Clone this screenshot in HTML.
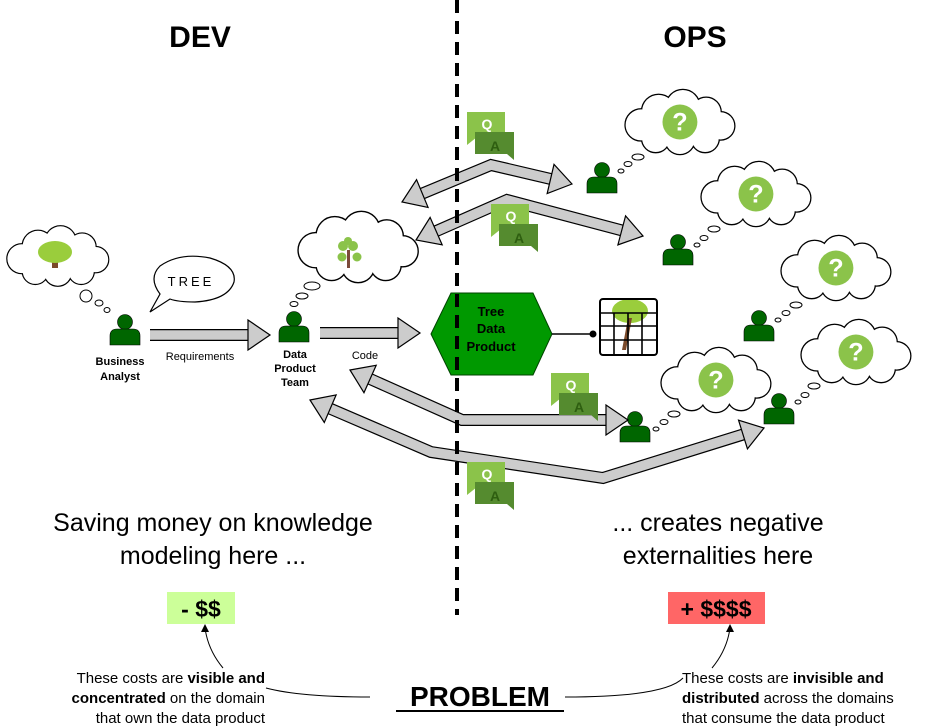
<!DOCTYPE html>
<html><head><meta charset="utf-8"><style>
html,body{margin:0;padding:0;background:#fff;}
svg{display:block;font-family:"Liberation Sans",sans-serif;}
</style></head><body>
<svg id="s" width="930" height="728" viewBox="0 0 930 728" xmlns="http://www.w3.org/2000/svg">
<defs>
<symbol id="cloud" viewBox="0 0 120 66" overflow="visible">
<g fill="#000" stroke="#000" stroke-width="2.6">
<circle cx="22" cy="36" r="16"/><circle cx="40" cy="22" r="17"/><circle cx="65" cy="17" r="17"/><circle cx="89" cy="23" r="15"/><circle cx="104" cy="37" r="14"/><circle cx="88" cy="50" r="14"/><circle cx="62" cy="51" r="15"/><circle cx="37" cy="50" r="14"/><ellipse cx="62" cy="35" rx="40" ry="20"/>
</g>
<g fill="#fff">
<circle cx="22" cy="36" r="16"/><circle cx="40" cy="22" r="17"/><circle cx="65" cy="17" r="17"/><circle cx="89" cy="23" r="15"/><circle cx="104" cy="37" r="14"/><circle cx="88" cy="50" r="14"/><circle cx="62" cy="51" r="15"/><circle cx="37" cy="50" r="14"/><ellipse cx="62" cy="35" rx="40" ry="20"/>
</g>
</symbol>
<symbol id="person" viewBox="0 0 32 32" overflow="visible">
<circle cx="16" cy="8" r="7.5" fill="#006600" stroke="#000" stroke-width="0.6"/>
<path d="M1,31 L1,22 Q1,15 8,15 L24,15 Q31,15 31,22 L31,31 Z" fill="#006600" stroke="#000" stroke-width="0.6"/>
</symbol>
<symbol id="qa" viewBox="0 0 48 50" overflow="visible">
<path d="M0,0 H38 V25 H10 L0,33 Z" fill="#8bc34a"/>
<path d="M8,20 H47 V48 L40,42 H8 Z" fill="#558b2f"/>
<text x="20" y="17" font-size="14" font-weight="bold" fill="#fff" text-anchor="middle">Q</text>
<text x="28" y="39" font-size="14" font-weight="bold" fill="#2e5e10" text-anchor="middle">A</text>
</symbol>
<symbol id="qcloud" viewBox="0 0 120 66" overflow="visible">
<use href="#cloud" x="0" y="0" width="120" height="66"/>
<circle cx="62" cy="33" r="18" fill="#8bc34a"/>
<text x="62" y="42" font-size="26" font-weight="bold" fill="#fff" text-anchor="middle">?</text>
</symbol>
</defs>

<text x="200" y="47" font-size="30" font-weight="bold" text-anchor="middle">DEV</text>
<text x="695" y="47" font-size="30" font-weight="bold" text-anchor="middle">OPS</text>

<use href="#cloud" x="2" y="222" width="108" height="68"/>
<circle cx="86" cy="296" r="6" fill="#fff" stroke="#000" stroke-width="1"/>
<ellipse cx="99" cy="303" rx="4" ry="3" fill="#fff" stroke="#000" stroke-width="1"/>
<ellipse cx="107" cy="310" rx="3" ry="2.5" fill="#fff" stroke="#000" stroke-width="1"/>
<rect x="52" y="252" width="6" height="16" fill="#7b4a2a"/>
<ellipse cx="55" cy="252" rx="17" ry="11" fill="#9acd3c"/>

<use href="#cloud" x="291" y="212" width="130" height="70"/>
<ellipse cx="312" cy="286" rx="8" ry="4" fill="#fff" stroke="#000" stroke-width="1"/>
<ellipse cx="302" cy="296" rx="6" ry="3" fill="#fff" stroke="#000" stroke-width="1"/>
<ellipse cx="294" cy="304" rx="4" ry="2.5" fill="#fff" stroke="#000" stroke-width="1"/>
<rect x="347" y="250" width="3" height="18" fill="#7b4a3a"/>
<g fill="#8bc34a"><circle cx="343" cy="246" r="5"/><circle cx="353" cy="246" r="5"/><circle cx="342" cy="257" r="4.5"/><circle cx="357" cy="257" r="4.5"/><circle cx="348" cy="241" r="4"/></g>

<path d="M160,294 Q148,278 160,266 Q180,252 210,258 Q237,266 234,282 Q228,300 195,302 Q178,302 170,299 L150,312 Z" fill="#fff" stroke="#000" stroke-width="1.2"/>
<text x="191" y="286" font-size="13" letter-spacing="3" text-anchor="middle">TREE</text>

<use href="#qcloud" x="616" y="90" width="124" height="64"/>
<use href="#qcloud" x="692" y="162" width="124" height="64"/>
<use href="#qcloud" x="772" y="236" width="124" height="64"/>
<use href="#qcloud" x="652" y="348" width="124" height="64"/>
<use href="#qcloud" x="792" y="320" width="124" height="64"/>
<g fill="#fff" stroke="#000" stroke-width="1">
<ellipse cx="638" cy="157" rx="6" ry="3"/><ellipse cx="628" cy="164" rx="4" ry="2.5"/><ellipse cx="621" cy="171" rx="3" ry="2"/>
<ellipse cx="714" cy="229" rx="6" ry="3"/><ellipse cx="704" cy="238" rx="4" ry="2.5"/><ellipse cx="697" cy="245" rx="3" ry="2"/>
<ellipse cx="796" cy="305" rx="6" ry="3"/><ellipse cx="786" cy="313" rx="4" ry="2.5"/><ellipse cx="778" cy="320" rx="3" ry="2"/>
<ellipse cx="674" cy="414" rx="6" ry="3"/><ellipse cx="664" cy="422" rx="4" ry="2.5"/><ellipse cx="656" cy="429" rx="3" ry="2"/>
<ellipse cx="814" cy="386" rx="6" ry="3"/><ellipse cx="805" cy="395" rx="4" ry="2.5"/><ellipse cx="798" cy="402" rx="3" ry="2"/>
</g>

<use href="#person" x="109" y="314" width="32" height="32"/>
<use href="#person" x="278" y="311" width="32" height="32"/>
<use href="#person" x="586" y="162" width="32" height="32"/>
<use href="#person" x="662" y="234" width="32" height="32"/>
<use href="#person" x="743" y="310" width="32" height="32"/>
<use href="#person" x="619" y="411" width="32" height="32"/>
<use href="#person" x="763" y="393" width="32" height="32"/>

<text font-size="11" font-weight="bold" text-anchor="middle"><tspan x="120" y="365">Business</tspan><tspan x="120" y="380">Analyst</tspan></text>
<text x="200" y="360" font-size="11" text-anchor="middle">Requirements</text>
<text font-size="11" font-weight="bold" text-anchor="middle"><tspan x="295" y="358">Data</tspan><tspan x="295" y="372">Product</tspan><tspan x="295" y="386">Team</tspan></text>
<text x="365" y="359" font-size="11" text-anchor="middle">Code</text>

<g id="arrows"></g>

<polygon points="431,334 451,293 533,293 552,334 533,375 451,375" fill="#009900" stroke="#004400" stroke-width="1"/>
<text font-size="13" font-weight="bold" text-anchor="middle"><tspan x="491" y="316">Tree</tspan><tspan x="491" y="333">Data</tspan><tspan x="491" y="351">Product</tspan></text>
<line x1="552" y1="334" x2="593" y2="334" stroke="#000" stroke-width="1.5"/>
<circle cx="593" cy="334" r="3.5" fill="#000"/>
<ellipse cx="630" cy="311" rx="18" ry="12" fill="#9acd3c"/>
<path d="M628,318 L632,318 L626,350 L622,350 Z" fill="#7b4a2a"/>
<rect x="600" y="299" width="57" height="56" rx="3" fill="none" stroke="#000" stroke-width="2"/>
<g stroke="#000" stroke-width="1.6">
<line x1="600" y1="313" x2="657" y2="313"/><line x1="600" y1="326" x2="657" y2="326"/><line x1="600" y1="340" x2="657" y2="340"/>
<line x1="614" y1="313" x2="614" y2="355"/><line x1="628" y1="313" x2="628" y2="355"/><line x1="642" y1="313" x2="642" y2="355"/>
</g>

<line x1="457" y1="0" x2="457" y2="615" stroke="#000" stroke-width="4" stroke-dasharray="13,8"/>

<use href="#qa" x="467" y="112" width="48" height="50"/>
<use href="#qa" x="491" y="204" width="48" height="50"/>
<use href="#qa" x="551" y="373" width="48" height="50"/>
<use href="#qa" x="467" y="462" width="48" height="50"/>

<text font-size="25" text-anchor="middle"><tspan x="213" y="531">Saving money on knowledge</tspan><tspan x="213" y="564">modeling here ...</tspan></text>
<text font-size="25" text-anchor="middle"><tspan x="718" y="531">... creates negative</tspan><tspan x="718" y="564">externalities here</tspan></text>
<rect x="167" y="592" width="68" height="32" fill="#ccff99"/>
<text x="201" y="617" font-size="23" font-weight="bold" text-anchor="middle">- $$</text>
<rect x="668" y="592" width="97" height="32" fill="#ff6666"/>
<text x="716" y="617" font-size="23" font-weight="bold" text-anchor="middle">+ $$$$</text>

<text font-size="15" text-anchor="end"><tspan x="265" y="683">These costs are <tspan font-weight="bold">visible and</tspan></tspan><tspan x="265" y="703"><tspan font-weight="bold">concentrated</tspan> on the domain</tspan><tspan x="265" y="723">that own the data product</tspan></text>
<text font-size="15"><tspan x="682" y="683">These costs are <tspan font-weight="bold">invisible and</tspan></tspan><tspan x="682" y="703"><tspan font-weight="bold">distributed</tspan> across the domains</tspan><tspan x="682" y="723">that consume the data product</tspan></text>
<text x="480" y="706" font-size="28" font-weight="bold" text-anchor="middle">PROBLEM</text>
<line x1="396" y1="711" x2="564" y2="711" stroke="#000" stroke-width="2"/>

<g fill="none" stroke="#000" stroke-width="1">
<path d="M370,697 Q300,697 266,688"/>
<path d="M223,668 Q208,650 205,628"/>
<path d="M565,697 Q665,697 683,678"/>
<path d="M712,668 Q727,650 730,628"/>
</g>
<polygon points="205,624 201,632 209,632" fill="#000"/>
<polygon points="730,624 726,632 734,632" fill="#000"/>
</svg>
<script>
(function(){
var g=document.getElementById('arrows'),NS='http://www.w3.org/2000/svg';
function el(n,a){var e=document.createElementNS(NS,n);for(var k in a)e.setAttribute(k,a[k]);g.appendChild(e);return e;}
function head(tip,from,L,W){var dx=tip[0]-from[0],dy=tip[1]-from[1],d=Math.hypot(dx,dy);dx/=d;dy/=d;var bx=tip[0]-dx*L,by=tip[1]-dy*L,nx=-dy,ny=dx;
return {poly:[[tip[0],tip[1]],[bx+nx*W/2,by+ny*W/2],[bx-nx*W/2,by-ny*W/2]],base:[bx+dx*1,by+dy*1]};}
function arrow(pts,s,e){pts=pts.map(function(p){return p.slice();});var hs=[];
if(e){var n=pts.length,h=head(pts[n-1],pts[n-2],22,30);pts[n-1]=h.base;hs.push(h.poly);}
if(s){var h2=head(pts[0],pts[1],22,30);pts[0]=h2.base;hs.push(h2.poly);}
var ps=pts.map(function(p){return p.join(',')}).join(' ');
el('polyline',{points:ps,fill:'none',stroke:'#000','stroke-width':12,'stroke-linejoin':'miter'});
el('polyline',{points:ps,fill:'none',stroke:'#cccccc','stroke-width':9.6,'stroke-linejoin':'miter'});
hs.forEach(function(h){el('polygon',{points:h.map(function(p){return p.join(',')}).join(' '),fill:'#cccccc',stroke:'#000','stroke-width':1.2,'stroke-linejoin':'miter'});});}
arrow([[150,335],[270,335]],false,true);
arrow([[320,333],[420,333]],false,true);
arrow([[402,202],[491,165],[572,184]],true,true);
arrow([[416,240],[507,200],[643,236]],true,true);
arrow([[350,370],[462,420],[628,420]],true,true);
arrow([[310,400],[431,452],[603,478],[764,428]],true,true);
})();
</script>
</body></html>
